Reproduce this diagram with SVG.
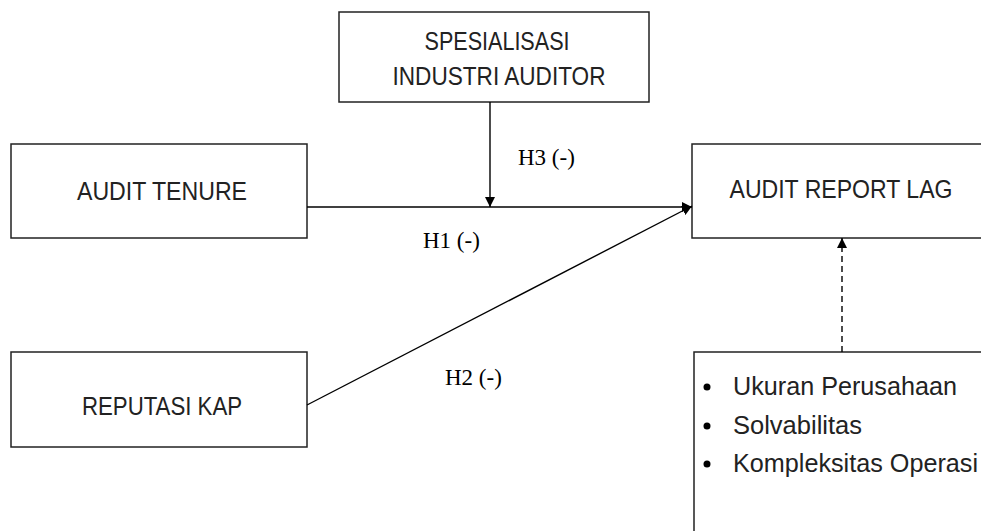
<svg xmlns="http://www.w3.org/2000/svg" width="981" height="531" viewBox="0 0 981 531">
<style>
.box{fill:#fff;stroke:#222;stroke-width:1.5}
.t{font-family:"Liberation Sans",Arial,sans-serif;font-size:25px;fill:#222;text-anchor:middle}
.b{font-family:"Liberation Sans",Arial,sans-serif;font-size:25px;fill:#222}
.h{font-family:"Liberation Serif","Times New Roman",serif;font-size:23px;fill:#000}
.c{stroke:#000;stroke-width:1.4;fill:none}
</style>
<defs>
<marker id="ah" viewBox="0 0 10 10" refX="10" refY="5" markerWidth="10" markerHeight="10" markerUnits="userSpaceOnUse" orient="auto">
<path d="M0,0 L10,5 L0,10 Z" fill="#000"/>
</marker>
</defs>
<rect width="981" height="531" fill="#fff"/>
<g id="spesialisasi">
<rect class="box" x="339" y="12" width="310" height="90"/>
<text class="t" x="497" y="50" textLength="145" lengthAdjust="spacingAndGlyphs">SPESIALISASI</text>
<text class="t" x="499" y="85" textLength="213" lengthAdjust="spacingAndGlyphs">INDUSTRI AUDITOR</text>
</g>
<g id="audit-tenure">
<rect class="box" x="11" y="144" width="296" height="94"/>
<text class="t" x="162" y="200" textLength="170" lengthAdjust="spacingAndGlyphs">AUDIT TENURE</text>
</g>
<g id="reputasi-kap">
<rect class="box" x="11" y="352" width="296" height="95"/>
<text class="t" x="162" y="415" textLength="160" lengthAdjust="spacingAndGlyphs">REPUTASI KAP</text>
</g>
<g id="audit-report-lag">
<rect class="box" x="692" y="144" width="320" height="94"/>
<text class="t" x="841" y="198" textLength="223" lengthAdjust="spacingAndGlyphs">AUDIT REPORT LAG</text>
</g>
<g id="kontrol">
<rect class="box" x="694" y="352" width="320" height="200"/>
<circle cx="707" cy="387" r="3.5" fill="#000"/>
<text class="b" x="733" y="395" textLength="224" lengthAdjust="spacingAndGlyphs">Ukuran Perusahaan</text>
<circle cx="707" cy="426" r="3.5" fill="#000"/>
<text class="b" x="733" y="434" textLength="129" lengthAdjust="spacingAndGlyphs">Solvabilitas</text>
<circle cx="707" cy="464" r="3.5" fill="#000"/>
<text class="b" x="733" y="472" textLength="245" lengthAdjust="spacingAndGlyphs">Kompleksitas Operasi</text>
</g>
<g id="connectors">
<line class="c" x1="307" y1="207" x2="692" y2="207" marker-end="url(#ah)"/>
<line class="c" x1="307" y1="405" x2="692" y2="206" marker-end="url(#ah)"/>
<line class="c" x1="490" y1="102" x2="490" y2="207" marker-end="url(#ah)"/>
<line class="c" x1="842" y1="352" x2="842" y2="238" stroke-dasharray="6 4" marker-end="url(#ah)"/>
<text class="h" x="518" y="165">H3 (-)</text>
<text class="h" x="423" y="248">H1 (-)</text>
<text class="h" x="445" y="385">H2 (-)</text>
</g>
</svg>
